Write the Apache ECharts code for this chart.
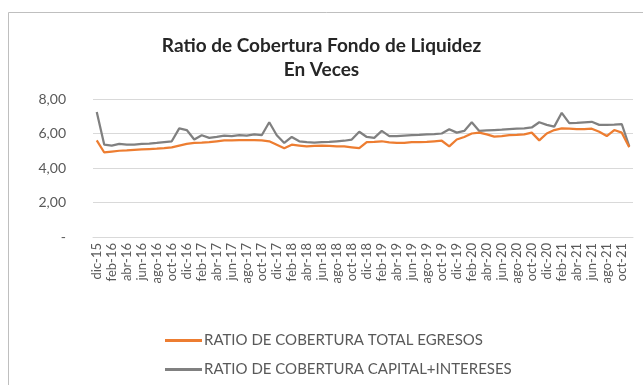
<!DOCTYPE html>
<html>
<head>
<meta charset="utf-8">
<script src="https://cdn.jsdelivr.net/npm/echarts@6/dist/echarts.min.js"></script>
<style>
  html, body { margin: 0; padding: 0; background: #fff; }
  #chart { width: 643px; height: 385px; }
</style>
</head>
<body>
<div id="chart"></div>
<script>
// Monthly categories, dic-15 .. nov-21
const monthNames = ['ene', 'feb', 'mar', 'abr', 'may', 'jun', 'jul', 'ago', 'sep', 'oct', 'nov', 'dic'];
const months = [];
for (let k = 0; k < 72; k++) {
  const m = (11 + k) % 12;
  const y = 15 + Math.floor((11 + k) / 12);
  months.push(monthNames[m] + '-' + y);
}

// Ratio de cobertura total egresos
const totalEgresos = [
  5.60, 4.90, 4.95, 5.00, 5.02, 5.05, 5.08, 5.10, 5.12, 5.15, 5.20, 5.30,
  5.40, 5.45, 5.47, 5.50, 5.55, 5.60, 5.60, 5.62, 5.62, 5.62, 5.60, 5.55,
  5.35, 5.15, 5.35, 5.30, 5.25, 5.28, 5.30, 5.28, 5.25, 5.25, 5.20, 5.15,
  5.50, 5.52, 5.55, 5.48, 5.45, 5.45, 5.50, 5.50, 5.52, 5.55, 5.58, 5.25,
  5.65, 5.80, 6.00, 6.05, 5.95, 5.82, 5.85, 5.90, 5.92, 5.95, 6.05, 5.60,
  6.00, 6.20, 6.30, 6.28, 6.25, 6.25, 6.28, 6.10, 5.85, 6.20, 6.05, 5.20
];

// Ratio de cobertura capital + intereses
const capitalIntereses = [
  7.25, 5.35, 5.30, 5.40, 5.35, 5.35, 5.40, 5.42, 5.45, 5.50, 5.55, 6.30,
  6.20, 5.65, 5.90, 5.75, 5.80, 5.88, 5.85, 5.90, 5.88, 5.95, 5.90, 6.65,
  5.90, 5.45, 5.80, 5.55, 5.50, 5.47, 5.50, 5.52, 5.55, 5.58, 5.65, 6.10,
  5.80, 5.75, 6.15, 5.85, 5.85, 5.88, 5.90, 5.92, 5.95, 5.97, 6.00, 6.25,
  6.05, 6.15, 6.65, 6.15, 6.18, 6.20, 6.22, 6.25, 6.28, 6.30, 6.35, 6.65,
  6.50, 6.40, 7.20, 6.60, 6.62, 6.65, 6.68, 6.50, 6.50, 6.52, 6.55, 5.25
];

const seriesNames = ['RATIO DE COBERTURA TOTAL EGRESOS', 'RATIO DE COBERTURA CAPITAL+INTERESES'];
const yTicks = [0, 2, 4, 6, 8];

const chart = echarts.init(document.getElementById('chart'), null, { renderer: 'canvas' });
const FONT = 'Lato, "Open Sans", sans-serif';

chart.setOption({
  backgroundColor: '#ffffff',
  animation: false,
  title: {
    text: 'Ratio de Cobertura Fondo de Liquidez\nEn Veces',
    left: 'center',
    top: 29,
    textStyle: {
      fontFamily: FONT,
      fontSize: 19,
      fontWeight: 'bold',
      color: '#262626',
      lineHeight: 24
    }
  },
  graphic: [{
    type: 'rect',
    shape: { x: 8.5, y: 12.5, width: 640, height: 380 },
    style: { fill: 'none', stroke: '#bfbfbf', lineWidth: 1 },
    silent: true
  }],
  legend: {
    orient: 'vertical',
    left: 160,
    top: 328,
    itemWidth: 37,
    itemHeight: 3,
    itemGap: 14,
    icon: 'rect',
    textStyle: { fontFamily: FONT, fontSize: 15, color: '#595959', padding: [0, 0, 0, -3] },
    data: seriesNames
  },
  grid: { left: 93, right: 10, top: 99, bottom: 148, containLabel: false },
  xAxis: {
    type: 'category',
    data: months,
    boundaryGap: true,
    axisLine: { show: true, lineStyle: { color: '#d9d9d9', width: 1 } },
    axisTick: { show: false },
    axisLabel: {
      interval: 1,
      rotate: 90,
      fontFamily: FONT,
      fontSize: 13,
      color: '#595959',
      margin: 6
    }
  },
  yAxis: {
    type: 'value',
    min: 0,
    max: 8,
    interval: 2,
    axisLine: { show: false },
    axisTick: { show: false },
    splitLine: { lineStyle: { color: '#d9d9d9', width: 1 } },
    axisLabel: {
      fontFamily: FONT,
      fontSize: 14,
      color: '#595959',
      margin: 27,
      formatter: function (v) {
        if (yTicks.indexOf(v) < 0) return '';
        return v === 0 ? '-' : v.toFixed(2).replace('.', ',');
      }
    }
  },
  series: [
    {
      name: seriesNames[0],
      type: 'line',
      data: totalEgresos,
      symbol: 'none',
      z: 3,
      lineStyle: { color: '#ed7d31', width: 2.25 },
      itemStyle: { color: '#ed7d31' }
    },
    {
      name: seriesNames[1],
      type: 'line',
      data: capitalIntereses,
      symbol: 'none',
      z: 2,
      lineStyle: { color: '#808080', width: 2.25 },
      itemStyle: { color: '#808080' }
    }
  ]
});
</script>
</body>
</html>
